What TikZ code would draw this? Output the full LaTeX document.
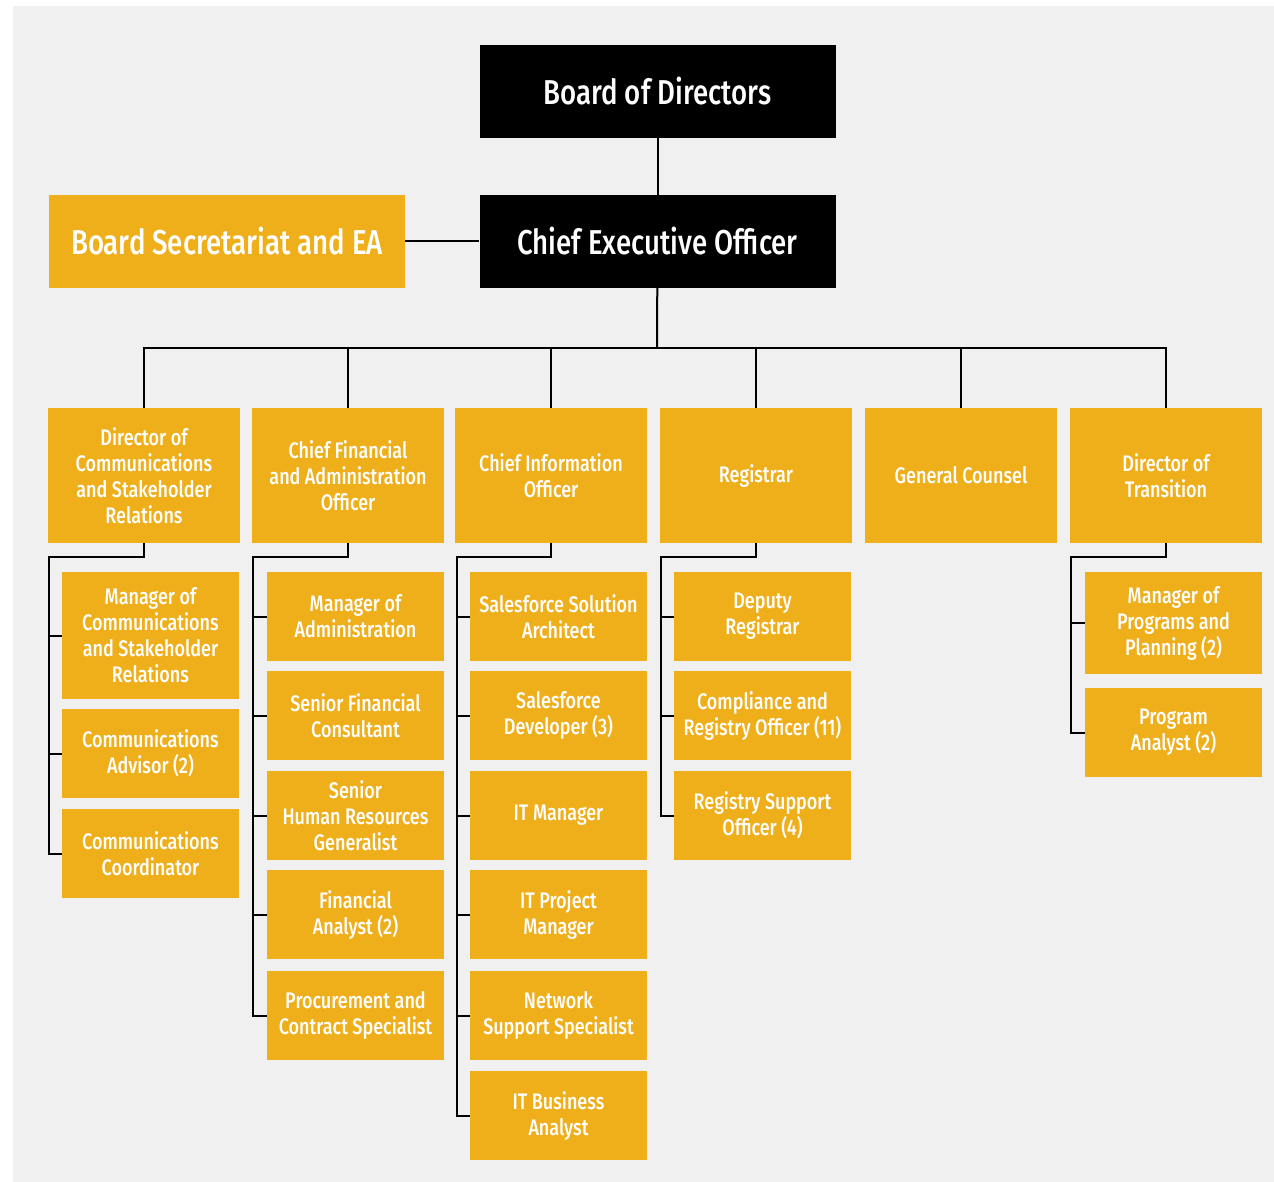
\documentclass[tikz,border=0pt]{standalone}
\usepackage{fontspec}
\setmainfont{Fira Sans Medium}[FakeStretch=0.8]
\usepackage{tikz}
\definecolor{gold}{RGB}{239,175,27}
\definecolor{paper}{RGB}{240,240,240}
\tikzstyle{unitbox}=[fill=gold, text=white, inner sep=0pt, align=center, minimum width=192pt, minimum height=135pt, font=\fontsize{22.5}{26}\selectfont]
\tikzstyle{subbox}=[unitbox, minimum width=177pt, minimum height=89pt]
\tikzstyle{headbox}=[unitbox, minimum width=356pt, minimum height=93pt, font=\fontsize{34.5}{40}\selectfont]
\tikzstyle{link}=[line width=2pt, black]

\begin{document}
\begin{tikzpicture}[x=1pt, y=-1pt]
\useasboundingbox (0,0) rectangle (1274,1182);
\fill[paper] (13,6) rectangle (1274,1182);
% top of the chart
\node[headbox, fill=black] (T0) at (657.5,91.5) {Board of Directors};
\node[headbox, fill=black] (T1) at (657.5,241.5) {Chief Executive Officer};
\node[headbox] (T2) at (227,241.5) {Board Secretariat and EA};
% direct reports
\node[unitbox] (P1) at (144,475.5) {Director of\\Communications\\and Stakeholder\\Relations};
\node[unitbox] (P2) at (348,475.5) {Chief Financial\\and Administration\\Officer};
\node[unitbox] (P3) at (551,475.5) {Chief Information\\Officer};
\node[unitbox] (P4) at (756,475.5) {Registrar};
\node[unitbox] (P5) at (961,475.5) {General Counsel};
\node[unitbox] (P6) at (1166,475.5) {Director of\\Transition};
% communications
\node[subbox, minimum height=127pt] (Q11) at (150.5,635.5) {Manager of\\Communications\\and Stakeholder\\Relations};
\node[subbox] (Q12) at (150.5,753.5) {Communications\\Advisor (2)};
\node[subbox] (Q13) at (150.5,853.5) {Communications\\Coordinator};
% finance and administration
\node[subbox] (Q21) at (355.5,616.5) {Manager of\\Administration};
\node[subbox] (Q22) at (355.5,715.5) {Senior Financial\\Consultant};
\node[subbox] (Q23) at (355.5,815.5) {Senior\\Human Resources\\Generalist};
\node[subbox] (Q24) at (355.5,914.5) {Financial\\Analyst (2)};
\node[subbox] (Q25) at (355.5,1015.5) {Procurement and\\Contract Specialist};
% information technology
\node[subbox] (Q31) at (558.5,616.5) {Salesforce Solution\\Architect};
\node[subbox] (Q32) at (558.5,715.5) {Salesforce\\Developer (3)};
\node[subbox] (Q33) at (558.5,815.5) {IT Manager};
\node[subbox] (Q34) at (558.5,914.5) {IT Project\\Manager};
\node[subbox] (Q35) at (558.5,1015.5) {Network\\Support Specialist};
\node[subbox] (Q36) at (558.5,1115.5) {IT Business\\Analyst};
% registrar
\node[subbox] (Q41) at (762.5,616.5) {Deputy\\Registrar};
\node[subbox] (Q42) at (762.5,715.5) {Compliance and\\Registry Officer (11)};
\node[subbox] (Q43) at (762.5,815.5) {Registry Support\\Officer (4)};
% transition
\node[subbox, minimum height=102pt] (Q61) at (1173.5,623) {Manager of\\Programs and\\Planning (2)};
\node[subbox] (Q62) at (1173.5,732.5) {Program\\Analyst (2)};
\coordinate (bus) at (657,348);
\coordinate (b1) at (49,557);
\coordinate (b2) at (253,557);
\coordinate (b3) at (457,557);
\coordinate (b4) at (661,557);
\coordinate (b6) at (1071,557);
\draw[link] (T0) -- (T1);
\draw[link] (T2) -- (T1);
\draw[link] (T1) -- (bus);
\draw[link] (P1.north) |- (bus) -| (P6.north);
\draw[link] (P2.north) -- (P2.north |- bus);
\draw[link] (P3.north) -- (P3.north |- bus);
\draw[link] (P4.north) -- (P4.north |- bus);
\draw[link] (P5.north) -- (P5.north |- bus);
\draw[link] (P1.south) |- (b1) |- (Q13.west);
\draw[link] (b1 |- Q11.west) -- (Q11.west);
\draw[link] (b1 |- Q12.west) -- (Q12.west);
\draw[link] (P2.south) |- (b2) |- (Q25.west);
\draw[link] (b2 |- Q21.west) -- (Q21.west);
\draw[link] (b2 |- Q22.west) -- (Q22.west);
\draw[link] (b2 |- Q23.west) -- (Q23.west);
\draw[link] (b2 |- Q24.west) -- (Q24.west);
\draw[link] (P3.south) |- (b3) |- (Q36.west);
\draw[link] (b3 |- Q31.west) -- (Q31.west);
\draw[link] (b3 |- Q32.west) -- (Q32.west);
\draw[link] (b3 |- Q33.west) -- (Q33.west);
\draw[link] (b3 |- Q34.west) -- (Q34.west);
\draw[link] (b3 |- Q35.west) -- (Q35.west);
\draw[link] (P4.south) |- (b4) |- (Q43.west);
\draw[link] (b4 |- Q41.west) -- (Q41.west);
\draw[link] (b4 |- Q42.west) -- (Q42.west);
\draw[link] (P6.south) |- (b6) |- (Q62.west);
\draw[link] (b6 |- Q61.west) -- (Q61.west);
\end{tikzpicture}
\end{document}
